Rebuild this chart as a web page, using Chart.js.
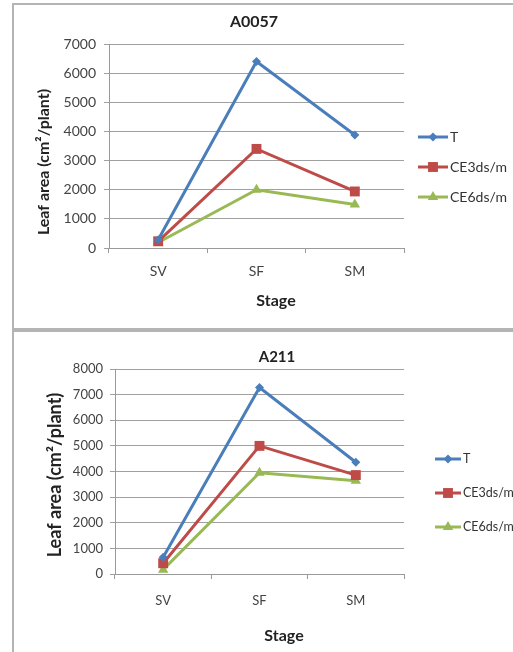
<!DOCTYPE html>
<html>
<head>
<meta charset="utf-8">
<script src="https://cdn.jsdelivr.net/npm/chart.js"></script>
<style>
  body { margin: 0; background: #fff; width: 513px; height: 652px; overflow: hidden; position: relative; }
  .box { position: absolute; left: 12px; width: 600px; border: 2px solid #b4b4b4; }
  #box1 { top: 3px; height: 323px; }
  #box2 { top: 330px; height: 400px; }
  canvas { position: absolute; left: 0; }
  #chart1 { top: 0; }
  #chart2 { top: 330px; }
</style>
</head>
<body>
<div class="box" id="box1"></div>
<div class="box" id="box2"></div>
<canvas id="chart1" width="513" height="328"></canvas>
<canvas id="chart2" width="513" height="322"></canvas>
<script>
const stages = ['SV', 'SF', 'SM'];
const seriesNames = ['T', 'CE3ds/m', 'CE6ds/m'];

// A0057
const a0057T   = [280, 6400, 3880];
const a0057CE3 = [230, 3400, 1940];
const a0057CE6 = [190, 2000, 1490];

// A211
const a211T   = [650, 7280, 4360];
const a211CE3 = [420, 5000, 3860];
const a211CE6 = [170, 3950, 3640];

const colors = ['#4a7ebb', '#be4b48', '#98b954'];
const markers = ['rectRot', 'rect', 'triangle'];
const markerSize = [4.5, 7, 6];

// draws chart title, axis titles and the line+marker legend
const decor = {
  id: 'decor',
  afterDraw(chart, args, o) {
    const ctx = chart.ctx;
    ctx.save();
    ctx.fillStyle = '#222';
    ctx.textAlign = 'center';
    ctx.textBaseline = 'middle';
    ctx.font = 'bold ' + o.titleSize + 'px Lato';
    ctx.fillText(o.title, o.titleX, o.titleY);
    ctx.font = 'bold ' + o.axisSize + 'px Lato';
    ctx.fillText('Stage', o.xTitleX, o.xTitleY);
    ctx.save();
    ctx.translate(o.yTitleX, o.yTitleY);
    ctx.rotate(-Math.PI / 2);
    ctx.font = 'bold ' + o.yAxisSize + 'px Lato';
    ctx.fillText('Leaf area (cm\u00b2/plant)', 0, 0);
    ctx.restore();

    chart.data.datasets.forEach((ds, i) => {
      const y = o.legY + i * o.legDy;
      ctx.strokeStyle = ds.borderColor;
      ctx.lineWidth = 3;
      ctx.beginPath();
      ctx.moveTo(o.legX, y);
      ctx.lineTo(o.legX + o.legLen, y);
      ctx.stroke();
      ctx.fillStyle = ds.backgroundColor;
      Chart.helpers.drawPoint(ctx, { pointStyle: ds.pointStyle, radius: ds.pointRadius, borderWidth: 0 }, o.legX + o.legLen / 2, y);
      ctx.fillStyle = '#333';
      ctx.textAlign = 'left';
      ctx.font = o.legSize + 'px Lato';
      ctx.fillText(ds.label, o.legX + o.legLen + 2, y);
    });
    ctx.restore();
  }
};

function makeDatasets(values) {
  return values.map((v, i) => ({
    label: seriesNames[i],
    data: v,
    borderColor: colors[i],
    backgroundColor: colors[i],
    borderWidth: 3,
    pointStyle: markers[i],
    pointRadius: markerSize[i],
    pointBorderWidth: 0,
    tension: 0
  }));
}

function drawChart(id, values, yMax, geo) {
  new Chart(document.getElementById(id), {
    type: 'line',
    data: { labels: stages, datasets: makeDatasets(values) },
    plugins: [decor],
    options: {
      responsive: false,
      animation: false,
      devicePixelRatio: 1,
      layout: { padding: { left: 0, right: geo.padRight, top: geo.padTop, bottom: 0 } },
      plugins: {
        legend: { display: false },
        tooltip: { enabled: false },
        decor: geo.decor
      },
      scales: {
        x: {
          offset: true,
          afterFit: s => { s.height = geo.xHeight; },
          grid: { offset: true, drawOnChartArea: false, tickLength: 5, color: '#9a9a9a' },
          border: { color: '#9a9a9a' },
          ticks: { padding: geo.xPad, color: '#444', font: { family: 'Lato', size: geo.tickSize } }
        },
        y: {
          min: 0,
          max: yMax,
          afterFit: s => { s.width = geo.yWidth; },
          grid: { tickLength: 5, color: '#a0a0a0' },
          border: { color: '#9a9a9a' },
          ticks: {
            stepSize: 1000, padding: geo.yPad, color: '#444',
            font: { family: 'Lato', size: geo.tickSize },
            callback: v => String(v)
          }
        }
      }
    }
  });
}

drawChart('chart1', [a0057T, a0057CE3, a0057CE6], 7000, {
  padRight: 109, padTop: 44, xHeight: 80, yWidth: 109, xPad: 10, yPad: 8, tickSize: 14,
  decor: {
    title: 'A0057', titleSize: 16, axisSize: 16, yAxisSize: 16, titleX: 254, titleY: 22,
    xTitleX: 276, xTitleY: 301, yTitleX: 44, yTitleY: 162,
    legX: 418, legLen: 30, legY: 137, legDy: 30, legSize: 14
  }
});

drawChart('chart2', [a211T, a211CE3, a211CE6], 8000, {
  padRight: 109, padTop: 39, xHeight: 78, yWidth: 115, xPad: 14, yPad: 7, tickSize: 13,
  decor: {
    title: 'A211', titleSize: 15, axisSize: 16, yAxisSize: 18, titleX: 277, titleY: 27,
    xTitleX: 284, xTitleY: 306, yTitleX: 55, yTitleY: 145,
    legX: 435, legLen: 26, legY: 129, legDy: 34, legSize: 12.5
  }
});
</script>
</body>
</html>
